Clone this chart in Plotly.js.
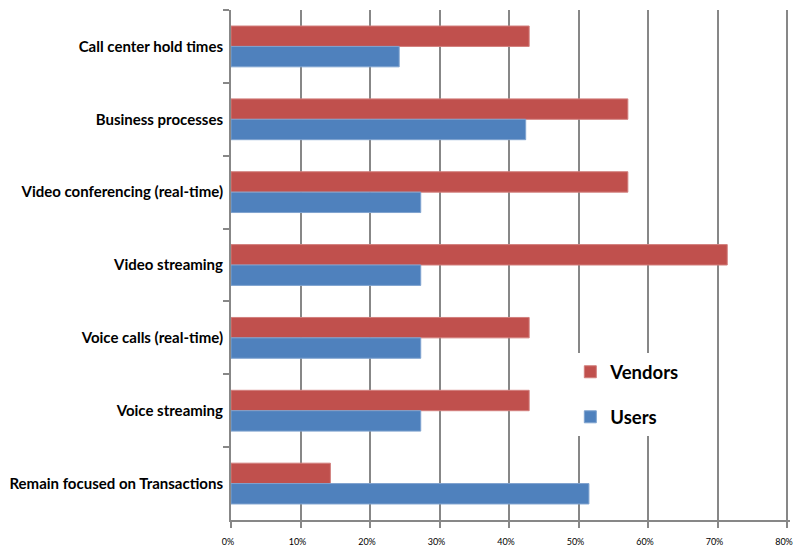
<!DOCTYPE html>
<html>
<head>
<meta charset="utf-8">
<script src="https://cdn.plot.ly/plotly-3.0.1.min.js"></script>
<style>html,body{margin:0;padding:0;background:#fff;}#chart{width:794px;height:548px;}</style>
</head>
<body>
<div id="chart"></div>
<script>
var categories = [
  "Call center hold times",
  "Business processes",
  "Video conferencing (real-time)",
  "Video streaming",
  "Voice calls (real-time)",
  "Voice streaming",
  "Remain focused on Transactions"
];
var vendorsValues = [0.429, 0.571, 0.571, 0.714, 0.429, 0.429, 0.143];
var usersValues = [0.242, 0.424, 0.273, 0.273, 0.273, 0.273, 0.515];
var xTickValues = [0, 0.1, 0.2, 0.3, 0.4, 0.5, 0.6, 0.7, 0.8];
var xTickLabels = ["0%", "10%", "20%", "30%", "40%", "50%", "60%", "70%", "80%"];

var gridColor = "#878787";
var traces = [
  {
    type: "bar", orientation: "h", name: "Vendors",
    y: categories, x: vendorsValues,
    marker: {color: "#C0504D", line: {color: "#D27F7D", width: 1}},
    legendgroup: "v", hoverinfo: "x+y"
  },
  {
    type: "bar", orientation: "h", name: "Users",
    y: categories, x: usersValues,
    marker: {color: "#4F81BD", line: {color: "#7FA3CF", width: 1}},
    legendgroup: "u", hoverinfo: "x+y"
  }
];

var layout = {
  width: 794, height: 548,
  margin: {l: 231, r: 4, t: 10, b: 28, pad: 0},
  paper_bgcolor: "#ffffff", plot_bgcolor: "#ffffff",
  barmode: "group", bargap: 0.44, bargroupgap: 0,
  font: {family: "Lato, 'Open Sans', sans-serif", color: "#000"},
  xaxis: {
    range: [0, 0.8043],
    tickvals: xTickValues, ticktext: xTickLabels,
    showgrid: true, gridcolor: gridColor, gridwidth: 2,
    zeroline: false,
    showline: true, linecolor: gridColor, linewidth: 2,
    ticks: "outside", ticklen: 6, tickwidth: 2, tickcolor: gridColor,
    tickfont: {size: 9, color: "#000"},
    ticklabelstandoff: 6,
    ticklabelshift: -3,
    ticklabeloverflow: "allow",
    fixedrange: true
  },
  yaxis: {
    autorange: "reversed",
    type: "category",
    tickson: "boundaries",
    showgrid: false, zeroline: false,
    showline: true, linecolor: gridColor, linewidth: 2,
    ticks: "outside", ticklen: 6, tickwidth: 2, tickcolor: gridColor,
    tickfont: {size: 15, color: "#000", weight: "bold"},
    ticklabelstandoff: 3,
    fixedrange: true
  },
  showlegend: true,
  legend: {
    x: 0.607, y: 0.327, xanchor: "left", yanchor: "top",
    bgcolor: "#ffffff", borderwidth: 0,
    traceorder: "grouped", tracegroupgap: 18,
    font: {size: 18.5, color: "#000", weight: "bold"}
  }
};

Plotly.newPlot("chart", traces, layout, {displayModeBar: false, staticPlot: true});
</script>
</body>
</html>
